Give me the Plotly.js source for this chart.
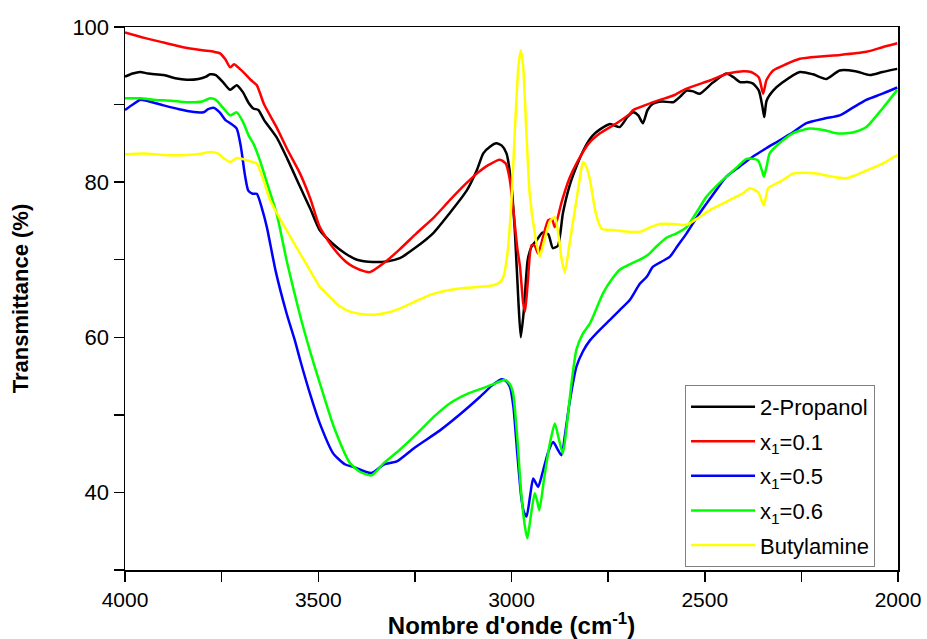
<!DOCTYPE html>
<html>
<head>
<meta charset="utf-8">
<script src="https://cdn.plot.ly/plotly-3.0.1.min.js"></script>
<style>html,body{margin:0;padding:0;background:#fff;}#chart{width:927px;height:639px;}</style>
</head>
<body>
<div id="chart"></div>
<script>
// ---- Data (wavenumber cm-1, transmittance %) ----
const seriesNames = ["2-Propanol", "x<sub>1</sub>=0.1", "x<sub>1</sub>=0.5", "x<sub>1</sub>=0.6", "Butylamine"];
const seriesColors = ["#000000", "#ff0000", "#0000ff", "#00ff00", "#ffff00"];

const propanolX = [4000,3980,3961,3940,3900,3870,3840,3810,3790,3780,3765,3745,3728,3711,3695,3680,3668,3655,3640,3608,3580,3547,3520,3496,3461,3430,3400,3358,3320,3289,3250,3203,3160,3116,3090,3073,3055,3039,3025,3013,3000,2991,2982,2976,2968,2958,2948,2935,2920,2905,2893,2880,2867,2850,2832,2810,2790,2771,2745,2720,2700,2685,2672,2660,2648,2634,2610,2582,2560,2547,2530,2513,2480,2444,2425,2409,2390,2375,2360,2350,2346,2340,2323,2300,2254,2220,2185,2151,2110,2073,2040,2002];
const propanolY = [93.6,94.0,94.2,94.0,93.8,93.4,93.2,93.3,93.6,93.9,93.8,92.8,91.9,92.5,91.6,90.2,89.5,89.3,88.0,85.8,83.0,79.4,76.5,73.8,72.0,70.8,70.0,69.7,69.8,70.2,71.5,73.4,76.0,78.9,81.5,83.7,84.6,85.0,84.7,83.7,79.5,73.4,64.5,60.0,63.5,70.0,71.7,72.5,73.5,73.3,71.5,71.8,76.0,79.5,82.0,84.5,86.0,86.8,87.5,87.1,88.4,89.0,88.6,87.6,89.3,90.1,90.4,90.3,91.2,91.8,91.7,91.4,92.8,94.0,93.5,92.9,92.9,92.7,91.8,89.5,88.4,90.5,91.8,92.8,94.2,93.9,93.3,94.4,94.3,93.8,94.2,94.6];

const x01X = [4000,3950,3900,3850,3800,3770,3754,3740,3728,3718,3703,3690,3675,3659,3640,3608,3580,3547,3520,3496,3461,3430,3410,3380,3366,3332,3290,3246,3200,3159,3120,3090,3060,3030,3015,3005,2996,2985,2978,2970,2965,2958,2948,2940,2931,2918,2905,2895,2888,2870,2850,2832,2800,2771,2728,2694,2685,2650,2616,2580,2550,2487,2440,2400,2380,2360,2349,2340,2323,2290,2254,2200,2150,2082,2040,2002];
const x01Y = [99.3,98.6,98.0,97.4,97.0,96.8,96.6,95.8,94.8,95.2,94.6,94.0,93.2,92.5,90.0,87.1,84.2,81.1,77.8,74.2,71.5,69.8,69.1,68.5,68.4,69.5,71.3,73.4,75.5,77.7,79.7,81.1,82.2,82.9,82.4,80.5,76.8,71.5,69.1,64.5,63.3,67.0,71.9,71.8,70.8,73.0,75.1,75.2,74.2,77.5,80.5,82.4,85.0,86.3,87.6,88.8,89.3,90.0,90.6,91.2,92.0,93.1,94.0,94.3,94.2,93.5,91.4,93.2,94.4,95.2,95.9,96.2,96.4,96.8,97.4,97.9];

const x05X = [4000,3980,3961,3930,3900,3860,3830,3797,3785,3771,3755,3740,3728,3711,3700,3690,3681,3670,3659,3645,3633,3610,3582,3560,3547,3520,3496,3461,3430,3410,3362,3330,3297,3250,3185,3130,3082,3050,3026,3015,3004,2995,2985,2975,2968,2961,2952,2944,2937,2931,2920,2905,2892,2880,2871,2860,2850,2832,2815,2797,2771,2746,2720,2694,2668,2650,2634,2610,2590,2570,2547,2520,2496,2470,2444,2410,2375,2340,2306,2270,2237,2190,2151,2120,2082,2040,2002];
const x05Y = [89.3,90.0,90.6,90.3,89.9,89.4,89.1,89.0,89.4,89.6,89.0,88.0,87.6,86.9,84.5,81.0,78.9,78.5,78.5,76.5,74.2,68.5,63.1,59.5,57.1,52.5,48.9,45.0,43.6,43.3,42.5,43.6,44.0,45.8,48.0,50.2,52.3,53.8,54.6,54.4,53.6,51.0,45.0,39.5,37.5,36.9,39.5,41.8,41.2,40.7,42.5,45.2,46.5,45.5,44.8,48.0,51.5,56.2,58.2,59.6,61.0,62.2,63.5,64.8,66.9,67.8,69.1,69.8,70.4,71.8,73.4,75.5,77.2,79.0,80.7,82.0,83.3,84.4,85.4,86.5,87.6,88.2,88.6,89.5,90.6,91.4,92.2];

const x06X = [4000,3961,3920,3880,3840,3800,3780,3765,3745,3728,3711,3695,3680,3668,3651,3630,3608,3580,3547,3520,3496,3460,3418,3390,3362,3330,3289,3240,3200,3159,3110,3065,3040,3017,3005,2996,2985,2975,2965,2959,2950,2940,2934,2928,2915,2900,2888,2878,2867,2855,2845,2832,2815,2797,2771,2763,2740,2720,2690,2668,2645,2625,2600,2573,2547,2520,2496,2470,2444,2415,2392,2375,2362,2352,2347,2340,2332,2300,2272,2229,2190,2160,2134,2110,2082,2040,2002];
const x06Y = [90.8,90.8,90.6,90.5,90.3,90.4,90.8,90.6,89.5,88.6,89.0,87.8,86.0,85.0,82.8,79.5,76.0,69.5,62.8,58.0,54.1,48.5,43.8,42.6,42.2,43.8,45.5,47.8,49.8,51.5,52.8,53.6,54.1,54.5,54.0,52.8,47.0,40.0,35.5,34.1,37.0,39.9,39.0,37.7,42.0,46.5,48.9,47.0,45.0,49.5,54.0,58.4,60.5,61.8,64.8,65.7,67.5,68.7,69.5,70.0,70.7,71.7,72.8,73.4,74.2,76.2,78.1,79.5,80.7,82.0,83.0,83.0,82.8,81.5,80.7,82.0,83.7,85.3,86.3,86.9,86.7,86.3,86.3,86.5,87.1,89.5,91.9];

const butylX = [4000,3950,3900,3840,3800,3780,3760,3745,3728,3711,3690,3670,3659,3640,3625,3590,3547,3520,3496,3478,3450,3418,3390,3358,3320,3289,3250,3203,3160,3116,3080,3047,3030,3021,3010,3000,2990,2982,2976,2970,2962,2953,2940,2927,2915,2900,2888,2878,2870,2862,2850,2832,2820,2815,2805,2797,2782,2767,2730,2694,2668,2640,2616,2580,2547,2520,2487,2455,2427,2400,2383,2362,2347,2336,2300,2272,2240,2211,2170,2134,2110,2082,2040,2002];
const butylY = [83.6,83.7,83.5,83.5,83.7,83.9,83.7,83.1,82.6,83.1,82.9,82.6,82.4,80.0,77.7,74.5,70.8,68.5,66.5,65.6,64.2,63.3,63.0,62.9,63.2,63.7,64.6,65.6,66.1,66.4,66.5,66.7,67.1,67.8,71.0,77.7,88.0,95.0,97.0,95.0,87.0,78.5,73.5,70.4,72.5,75.0,75.5,73.0,70.0,68.4,72.0,77.7,81.5,82.6,81.8,80.3,76.0,74.0,73.8,73.6,73.6,74.2,74.6,74.6,74.5,75.3,76.4,77.2,77.9,78.6,79.2,78.7,77.0,79.2,80.2,81.1,81.2,81.1,80.7,80.5,80.9,81.5,82.4,83.5];

const xTicks = [4000, 3500, 3000, 2500, 2000];
const yTicks = [40, 60, 80, 100];

const allX = [propanolX, x01X, x05X, x06X, butylX];
const allY = [propanolY, x01Y, x05Y, x06Y, butylY];

const font = "'Liberation Sans', Arial, sans-serif";
const traces = allX.map((xs, i) => ({
  type: "scatter", mode: "lines", x: xs, y: allY[i], name: seriesNames[i],
  legendgroup: "g" + i,
  line: {color: seriesColors[i], width: 2.5, shape: "spline", smoothing: 0.6}
}));

const layout = {
  width: 927, height: 639,
  margin: {l: 125, r: 29, t: 27, b: 69},
  paper_bgcolor: "#ffffff", plot_bgcolor: "#ffffff",
  font: {family: font, color: "#000000"},
  showlegend: true,
  legend: {
    x: 0.7245, y: 0.341, xanchor: "left", yanchor: "top",
    bordercolor: "#808080", borderwidth: 1, bgcolor: "#ffffff",
    font: {family: font, size: 22, color: "#000000"},
    tracegroupgap: 3, itemwidth: 64
  },
  xaxis: {
    range: [4000, 2000], tickvals: xTicks, ticktext: xTicks.map(String),
    showgrid: false, zeroline: false, showline: true, mirror: true,
    linecolor: "#000000", linewidth: 1.5,
    ticks: "outside", ticklen: 10, tickwidth: 1.5, tickcolor: "#000000",
    tickfont: {family: font, size: 21, color: "#000000"},
    minor: {dtick: 250, tick0: 0, ticks: "outside", ticklen: 10, tickwidth: 1.5, tickcolor: "#000000", showgrid: false},
    title: {text: "<b>Nombre d'onde (cm<sup>-1</sup>)</b>", font: {family: font, size: 24, color: "#000000"}, standoff: 6}
  },
  yaxis: {
    range: [30, 100], tickvals: yTicks, ticktext: yTicks.map(String),
    showgrid: false, zeroline: false, showline: true, mirror: true,
    linecolor: "#000000", linewidth: 1.5,
    ticks: "outside", ticklen: 10, tickwidth: 1.5, tickcolor: "#000000",
    tickfont: {family: font, size: 22, color: "#000000"},
    minor: {dtick: 10, tick0: 0, ticks: "outside", ticklen: 10, tickwidth: 1.5, tickcolor: "#000000", showgrid: false},
    title: {text: "<b>Transmittance (%)</b>", font: {family: font, size: 22, color: "#000000"}, standoff: 37}
  }
};

Plotly.newPlot("chart", traces, layout, {displayModeBar: false, staticPlot: true});
</script>
</body>
</html>
